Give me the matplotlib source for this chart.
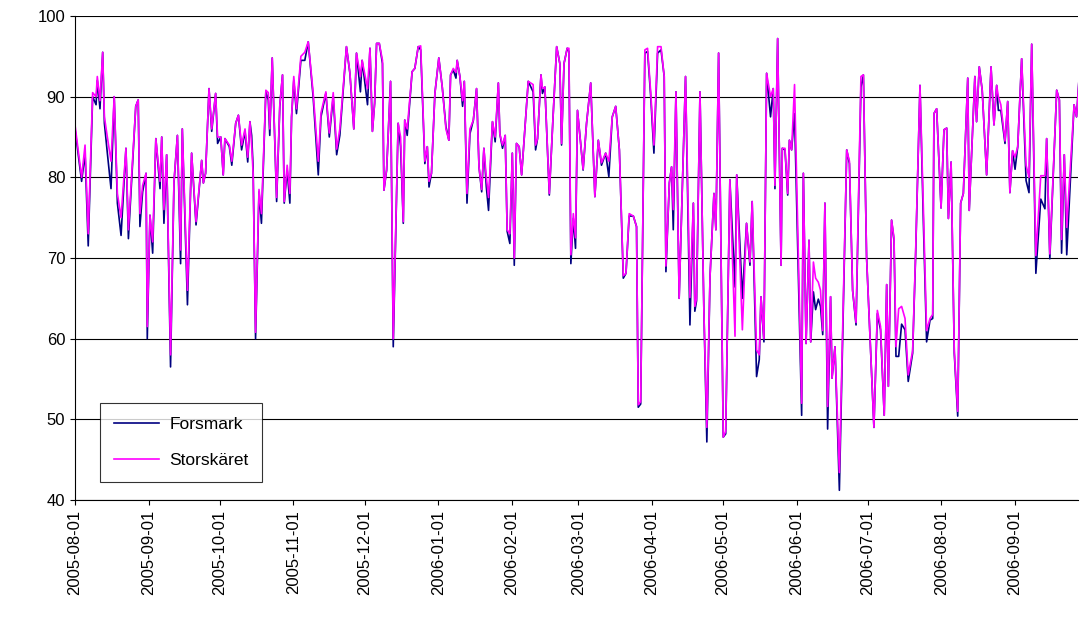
import numpy as np
import pandas as pd
import matplotlib
matplotlib.use("Agg")
import matplotlib.pyplot as plt
import matplotlib.dates as mdates

plt.rcParams['font.family'] = ['Liberation Sans', 'DejaVu Sans']

# Tage ab 2005-08-01, Werte Forsmark / Storskäret
day_read = [0, 2.7, 4.1, 5.4, 7.2, 8.6, 9.1, 10.2, 11.3, 12, 13.2, 14.7, 16, 17.3, 18.8, 20.8, 21.8, 24.8, 25.8, 26.5,
            27.6, 29, 29.5, 30.6, 31.7, 33, 34.7, 35.4, 36.3, 37.4, 39, 40.4, 41.8, 43.1, 43.8, 45.9, 47.6, 49.4, 51.7, 52.4,
            53.3, 54.7, 55.8, 57.4, 58.2, 59.5, 60.5, 61.2, 63, 64, 65.6, 66.7, 68, 69.4, 70.5,
            71.4, 72.1, 72.7, 73.7, 75.1, 76.1, 77.9, 78.9, 79.5, 80.5, 82.3, 83.6, 84.7, 85.4, 86.6, 87.7, 88.4, 89.3, 90.4,
            92.2, 93.8, 95.2, 97.2, 99.3, 100.4, 102.4, 103.8, 105.4, 106.8, 108.1, 110.8, 112.2, 113.8, 114.9, 116.5, 117.2,
            119.4, 120.4, 121.4, 122.3, 123.1, 124.2, 125.5, 126.1, 127.2, 128.8, 129.9, 131.9, 132.9, 134, 134.6, 135.6,
            137.6, 138.7, 140.1,
            141.1, 142.8, 143.8, 144.5, 145.5, 146.9, 148.5, 149.9, 151.4, 152.6, 153.3, 154.4, 155.5, 156, 157.1, 158.2,
            158.9, 160, 161.2, 162.6, 163.9, 164.9, 166, 166.9, 167.9, 168.8, 170.4, 171.5, 172.8, 173.4, 174.5, 175.6,
            176.4, 177.5, 178.5, 179.3, 180.2, 181.3, 182.3, 184, 185, 187, 188, 188.8, 190.2, 190.8, 191.8, 193.6, 195,
            196.6, 197.9, 198.6, 199.6, 200.9, 201.6, 202.4, 203.4, 204.3, 205.1, 206.4, 207.4, 208.8,
            210.5, 212.2, 213.6, 214.9, 216.6, 217.9, 219.3, 220.7, 222.2, 223.8, 224.9, 226.2, 227.9, 229.2, 229.9, 230.9,
            232.6, 233.7, 235, 236.3, 237.8, 239.2, 240.5, 241.2, 242.6, 243.5, 244.2, 245.3, 246.6, 249.2, 251, 252.4,
            253, 253.7, 255.1, 256.7, 257.9, 259.2, 260.8, 261.6, 262.7, 264.6, 265.6, 267.3, 269.4, 270.1, 272.4, 274.1,
            275.5, 276.4, 278.2,
            279.3, 280, 281.2, 282.3, 283.9, 285, 285.7, 286.8, 288.2, 288.7, 289.8, 290.9, 291.6, 292.5, 293.7, 296.6,
            297.3, 298.4, 299.6, 300.3, 301.4, 302.3, 303.4, 304.3, 305.2, 306.1, 307.2, 308.4, 309, 310.2, 312, 315,
            316.1, 317.4, 318.8, 320.8, 321.8, 323.1, 326.1, 327.5, 328.8, 330.3, 331.3, 332, 333.3, 334.3, 335.1, 336.2,
            337.4, 338.8, 340.1, 341.9, 343.1, 344.9,
            346.3, 347.6, 349, 350.1, 350.6, 351.7, 353.5, 354.7, 355.8, 356.5, 357.6, 358.9, 360.3, 361.5, 362.6, 364.4,
            365, 367.3, 368, 369.1, 370.3, 372.1, 373.9, 375.1, 376.2, 376.9, 377.9, 379.6, 380.7, 381.6, 382.7, 383.7,
            384.8, 386.4, 388.2, 389.4, 390.5, 392.2, 394.2, 395.9, 396.6, 397.9, 400.7, 401.8, 402.7, 403.8, 404.8,
            407.8, 408.8, 410.6]

forsmark = [86, 79.5, 83, 71.5, 90, 89, 92, 88.5, 95.5, 86.7, 83, 78.6, 90, 76.8, 72.8, 83.6, 72.4, 88.8, 89.6, 73.9,
            78.2, 80.5, 60, 75.3, 70.6, 84.8, 78.6, 85, 74.3, 82.8, 56.5, 79.3, 85.2, 69.3, 86, 64.2, 83, 74.1, 82.1, 79.3,
            80.5, 91, 85.7, 90.4, 84.2, 85, 80.3, 84.8, 83.8, 81.5, 86.7, 87.7, 83.4, 85.7, 81.9,
            86.9, 85.2, 81.3, 60, 78.2, 74.3, 90.6, 89.6, 85.2, 94.8, 77, 88.8, 92.7, 76.8, 80.9, 76.8, 87.5, 92, 87.9,
            94.5, 94.5, 96.8, 90, 80.3, 87.5, 90.4, 85, 90, 82.8, 85.2, 96.2, 92.9, 86, 95.4, 90.6, 94.5,
            89, 96, 85.7, 89.2, 96.6, 96.6, 94.1, 78.4, 80.9, 91.9, 59, 86.7, 83.8, 74.3, 87.1, 85.2,
            93.1, 93.5, 96.2,
            95.8, 81.7, 83.8, 78.8, 80.5, 90.4, 94.8, 91.2, 86.3, 84.6, 92.7, 93.3, 92.3, 94.5, 92.5, 88.8,
            91.9, 76.8, 85.4, 87.1, 91, 81.3, 78.2, 83.6, 78.8, 75.9, 86.9, 84.4, 91.7, 85.4, 83.6, 85.2,
            73.3, 71.8, 83, 69.1, 84.2, 83.8, 80.3, 87.5, 91.9, 90.6, 83.4, 84.8, 92.7, 90.4, 91.2, 77.8, 86.7,
            96.2, 94.1, 84, 94.1, 96, 95.6, 69.3, 74.9, 71.2, 88.3, 84.2, 80.9, 86.7,
            91.7, 77.6, 84.6, 81.5, 83, 80.1, 87.5, 88.8, 83.4, 67.5, 68.1, 75.2, 75.2, 73.9, 51.5, 51.9,
            95.4, 95.6, 90, 83, 95.4, 95.8, 92.5, 68.3, 79.3, 81.3, 73.5, 90.6, 65, 92.5, 61.7, 76.8,
            63.4, 64.7, 90.6, 63.4, 47.2, 67.7, 78, 73.5, 95.4, 47.8, 48.2, 79.7, 66.4, 80.3, 65, 74.3,
            69.1, 77, 55.3,
            57.4, 65.2, 59.6, 92.9, 87.5, 91, 78.6, 97.2, 69.1, 83.6, 83.4, 77.8, 84.6, 83.4, 87.9, 50.5,
            80.5, 59.4, 72.2, 59.6, 65.8, 63.6, 64.9, 64, 60.5, 76.8, 48.8, 65.2, 55.1, 59, 41.2, 83.4,
            81.7, 66, 61.7, 91.2, 92.7, 70.1, 49, 63.1, 61.1, 50.5, 66.7, 54.1, 74.7, 72.2, 57.8, 57.8,
            61.8, 61.1, 54.7, 58.2, 70.1, 91.4,
            74.3, 59.6, 62.3, 62.5, 87.9, 88.5, 76.2, 85.9, 86.1, 74.9, 81.9, 58.2, 50.4, 76.8, 78, 92.3,
            75.9, 92.5, 86.9, 93.7, 90.8, 80.3, 93.7, 86.5, 91.4, 88.3, 88.3, 84.2, 89.4, 78.1, 83.3, 81,
            83.8, 94.7, 79.6, 78.1, 96.5, 68.1, 77.3, 76.1, 84.8, 69.9, 90.8, 89.6, 70.6, 82.8, 70.4,
            89, 87.5, 95.8]

storskaret = [86.5, 80, 84, 73, 90.5, 90, 92.5, 89.5, 95.5, 87.5, 85, 82, 90, 78, 75, 83.6, 73.5, 88.8, 89.6, 75.5,
              79, 80.5, 61.5, 75.3, 72, 84.8, 79.5, 85, 76, 82.8, 58, 79.5, 85.2, 71, 86, 66, 83, 74.5, 82.1, 79.3,
              80.5, 91, 86, 90.4, 85, 85, 80.3, 84.8, 84, 82, 86.7, 87.7, 84, 86, 82.5,
              86.9, 84, 80.5, 60.8, 78.5, 75.5, 90.8, 90.5, 86, 94.8, 77.5, 89, 92.7, 77, 81.5, 78, 87.5, 92.5, 88.5,
              95, 95.5, 96.8, 90.5, 82, 88, 90.6, 85.5, 90.5, 83.5, 86, 96.2, 93, 86, 95.4, 92.5, 94.5,
              91, 96, 85.7, 89.2, 96.6, 96.6, 94.5, 78.4, 81, 91.9, 60, 86.7, 85, 74.5, 87.1, 86,
              93.1, 93.5, 96.2,
              96.3, 82, 83.8, 79.5, 80.5, 90.4, 94.8, 91.2, 86, 84.6, 92.7, 93.5, 93, 94.5, 92.5, 89.5,
              91.9, 78, 86, 87.1, 91, 81.3, 78.5, 83.6, 80, 77.5, 86.9, 85, 91.7, 85.4, 84, 85.2,
              73.5, 73, 83, 70, 84.2, 83.8, 80.3, 87.5, 91.9, 91.5, 84, 84.8, 92.7, 91, 91.2, 78, 86.7,
              96.2, 94.1, 84.2, 94.1, 96, 96, 70.4, 75.5, 72.5, 88.3, 84.2, 81, 86.7,
              91.7, 77.6, 84.6, 81.8, 83, 82, 87.5, 88.8, 83.4, 67.8, 68.1, 75.5, 75.2, 73.9, 51.8, 52.2,
              95.8, 96, 90.5, 84, 96.2, 96.2, 92.5, 69, 79.3, 81.3, 76, 90.6, 65, 92.5, 65.1, 76.8,
              64, 65, 90.6, 63.4, 49, 67.7, 78, 73.5, 95.4, 47.8, 48.5, 79.7, 60.3, 80.3, 61.1, 74.3,
              69.5, 77, 58.6,
              58, 65.2, 60, 92.9, 90, 91, 79, 97.2, 69.1, 83.6, 83.6, 78, 84.6, 83.4, 91.5, 52,
              80.5, 59.4, 72.2, 59.6, 69.5, 67.5, 67, 66, 61, 76.8, 51.6, 65.2, 55.1, 59, 43.4, 83.4,
              82, 66, 62, 92.5, 92.7, 70.1, 49, 63.5, 61.5, 50.5, 66.7, 54.1, 74.7, 72.5, 59, 63.7,
              64, 62.5, 55.5, 58.5, 70.5, 91.4,
              76, 61, 62.5, 63, 87.9, 88.5, 76.2, 85.9, 86.1, 74.9, 81.9, 58.5, 51, 76.8, 78, 92.3,
              75.9, 92.5, 86.9, 93.7, 90.8, 80.3, 93.7, 86.5, 91.4, 90, 89, 84.5, 89.4, 78.1, 83.3, 82.5,
              83.8, 94.7, 81.5, 80, 96.5, 70.3, 80.2, 80.2, 84.8, 70.5, 90.8, 89.6, 72.3, 82.8, 73.8,
              89, 87.5, 95.8]

# Ablesung war in Pixel/2.45 -> tatsaechlich 2.374 px pro Tag
days = np.array(day_read) * 1.032
dates = pd.Timestamp("2005-08-01") + pd.to_timedelta(days, unit="D")

fig = plt.figure(figsize=(10.81, 6.23), dpi=100)
ax = fig.add_axes([75 / 1081, 1 - 500 / 623, (1078 - 75) / 1081, (500 - 16) / 623])

ax.plot(dates, forsmark, color="#000080", lw=1.2, label="Forsmark")
ax.plot(dates, storskaret, color="#FF00FF", lw=1.2, label="Storskäret")

ax.set_ylim(40, 100)
ax.set_yticks(np.arange(40, 101, 10))
ax.set_xlim(pd.Timestamp("2005-08-01"), pd.Timestamp("2005-08-01") + pd.Timedelta(days=422.5))
ax.xaxis.set_major_locator(mdates.MonthLocator())
ax.xaxis.set_major_formatter(mdates.DateFormatter("%Y-%m-%d"))
plt.setp(ax.get_xticklabels(), rotation=90)
ax.tick_params(labelsize=12, direction="out")
ax.grid(axis="y", color="black", lw=0.8)
ax.set_axisbelow(True)
for s in ["top", "right"]:
    ax.spines[s].set_visible(False)

leg = ax.legend(loc="lower left", bbox_to_anchor=(0.016, 0.02), fancybox=False, edgecolor="black",
                fontsize=12.5, labelspacing=1.2, handlelength=2.6, borderpad=0.8, handletextpad=0.6)
leg.get_frame().set_linewidth(0.8)

fig.savefig("out.png", dpi=100)
